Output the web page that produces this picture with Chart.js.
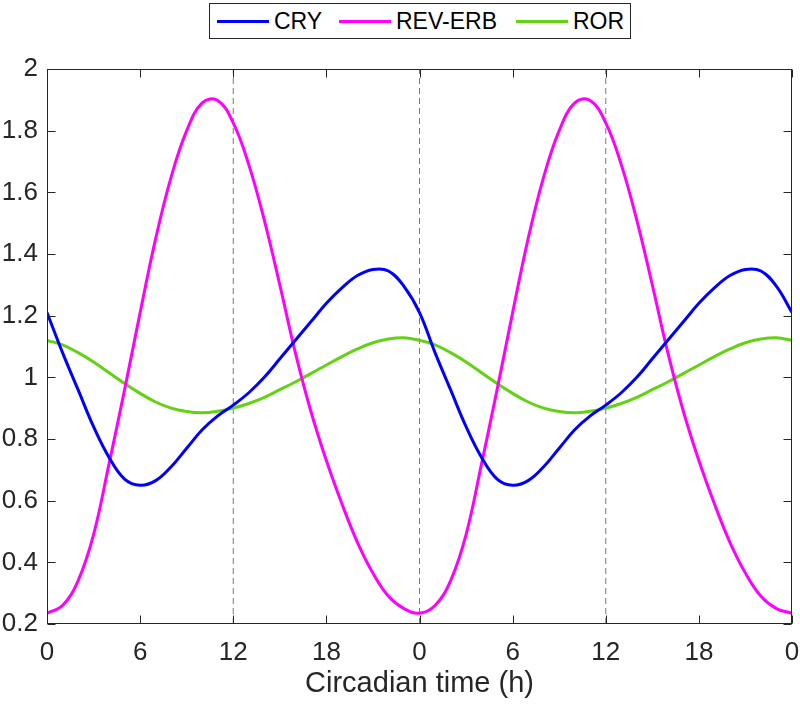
<html>
<head>
<style>
body { margin: 0; background: #fff; }
#wrap { position: relative; width: 800px; height: 705px; }
#legend { position: absolute; left: 209px; top: 3px; width: 420px; height: 34px; border: 1px solid #262626; background: #fff;
  font-family: "Liberation Sans", Arial, sans-serif; font-size: 23px; color: #000; }
.swatch { position: absolute; top: 16px; width: 52px; height: 3px; }
.lbl { position: absolute; top: 0; height: 34px; line-height: 35px; }
</style>
</head>
<body>
<div id="wrap">
  <canvas id="myChart" width="800" height="705"></canvas>
  <div id="legend"></div>
</div>
<script src="https://cdn.jsdelivr.net/npm/chart.js"></script>
<script>
// circadian time, hours 0..48 (two days)
const hours = [0,1,2,3,4,5,6,7,8,9,10,11,12,13,14,15,16,17,18,19,20,21,22,23,24,
  25,26,27,28,29,30,31,32,33,34,35,36,37,38,39,40,41,42,43,44,45,46,47,48];

const cry = [1.21,1.08,0.96,0.84,0.74,0.67,0.65,0.665,0.71,0.77,0.83,0.875,0.91,0.95,1.0,1.06,1.12,1.18,1.24,1.29,1.33,1.35,1.345,1.295,1.21,
  1.08,0.96,0.84,0.74,0.67,0.65,0.665,0.71,0.77,0.83,0.875,0.91,0.95,1.0,1.06,1.12,1.18,1.24,1.29,1.33,1.35,1.345,1.295,1.21];

const revErb = [0.235,0.26,0.34,0.49,0.72,0.96,1.21,1.45,1.65,1.80,1.89,1.898,1.825,1.69,1.51,1.30,1.08,0.89,0.73,0.59,0.465,0.365,0.29,0.25,0.235,
  0.26,0.34,0.49,0.72,0.96,1.21,1.45,1.65,1.80,1.89,1.898,1.825,1.69,1.51,1.30,1.08,0.89,0.73,0.59,0.465,0.365,0.29,0.25,0.235];

const ror = [1.12,1.105,1.08,1.05,1.015,0.98,0.948,0.92,0.9,0.889,0.885,0.89,0.90,0.915,0.935,0.96,0.985,1.012,1.04,1.067,1.092,1.112,1.124,1.128,1.12,
  1.105,1.08,1.05,1.015,0.98,0.948,0.92,0.9,0.889,0.885,0.89,0.90,0.915,0.935,0.96,0.985,1.012,1.04,1.067,1.092,1.112,1.124,1.128,1.12];

const seriesNames = ['CRY', 'REV-ERB', 'ROR'];
const seriesColors = ['#0000ff', '#ff00ff', '#64d214'];

const xTickLabels = ['0','6','12','18','0','6','12','18','0'];
const yTickLabels = ['0.2','0.4','0.6','0.8','1','1.2','1.4','1.6','1.8','2'];
const dividers = [12, 24, 36];
const yMin = 0.2, yMax = 2;

function toPoints(ys) {
  return hours.map((h, i) => ({x: h, y: ys[i]}));
}

const datasets = [cry, revErb, ror].map((ys, i) => ({
  label: seriesNames[i],
  data: toPoints(ys),
  borderColor: seriesColors[i],
  borderWidth: 3,
  pointRadius: 0,
  tension: 0.4,
  fill: false
}));

dividers.forEach(h => {
  datasets.push({
    label: 'divider',
    data: [{x: h, y: yMin}, {x: h, y: yMax}],
    borderColor: '#7a7a7a',
    borderWidth: 1,
    borderDash: [6, 4],
    pointRadius: 0,
    fill: false
  });
});

// legend (html, boxed like matlab)
const legendPos = [[7, 64], [129, 186], [306, 363]];
const legendEl = document.getElementById('legend');
seriesNames.forEach((name, i) => {
  const sw = document.createElement('div');
  sw.className = 'swatch';
  sw.style.left = legendPos[i][0] + 'px';
  sw.style.background = seriesColors[i];
  legendEl.appendChild(sw);
  const t = document.createElement('div');
  t.className = 'lbl';
  t.style.left = legendPos[i][1] + 'px';
  t.textContent = name;
  legendEl.appendChild(t);
});

const frame = {
  id: 'frame',
  afterDraw(chart) {
    const {ctx, chartArea: a} = chart;
    const xs = chart.scales.x, ys = chart.scales.y;
    const L = Math.round(a.left) + 0.5, R = Math.round(a.right) - 0.5;
    const T = Math.round(a.top) + 0.5, B = Math.round(a.bottom) - 0.5;
    ctx.save();
    ctx.strokeStyle = '#262626';
    ctx.lineWidth = 1;
    ctx.strokeRect(L, T, R - L, B - T);
    const len = 8;
    ctx.beginPath();
    xs.ticks.forEach(t => {
      const px = Math.round(xs.getPixelForValue(t.value)) + 0.5;
      ctx.moveTo(px, B); ctx.lineTo(px, B - len);
      ctx.moveTo(px, T); ctx.lineTo(px, T + len);
    });
    ys.ticks.forEach(t => {
      const py = Math.round(ys.getPixelForValue(t.value)) + 0.5;
      ctx.moveTo(L, py); ctx.lineTo(L + len, py);
      ctx.moveTo(R, py); ctx.lineTo(R - len, py);
    });
    ctx.stroke();
    ctx.restore();
  }
};

const tickFont = {family: '"Liberation Sans", Arial, sans-serif', size: 26};

const config = {
  type: 'line',
  data: {datasets: datasets},
  options: {
    responsive: false,
    animation: false,
    layout: {padding: {top: 69, right: 8, left: 0, bottom: 0}},
    plugins: {legend: {display: false}, tooltip: {enabled: false}},
    scales: {
      x: {
        type: 'linear',
        min: 0, max: 48,
        grid: {display: false, drawTicks: false},
        border: {display: false},
        ticks: {
          stepSize: 6,
          padding: 13,
          color: '#262626',
          font: tickFont,
          maxRotation: 0,
          callback: v => xTickLabels[Math.round(v / 6)]
        },
        title: {
          display: true,
          text: 'Circadian time (h)',
          color: '#262626',
          font: {family: '"Liberation Sans", Arial, sans-serif', size: 29},
          padding: {top: 0, bottom: 4}
        },
        afterFit: s => { s.height = 81; s.paddingLeft = 0; s.paddingRight = 0; }
      },
      y: {
        min: yMin, max: yMax,
        grid: {display: false, drawTicks: false},
        border: {display: false},
        ticks: {
          stepSize: 0.2,
          padding: 9,
          color: '#262626',
          font: tickFont,
          callback: v => yTickLabels[Math.round((v - yMin) / 0.2)]
        },
        afterFit: s => { s.width = 47; s.paddingTop = 0; s.paddingBottom = 0; }
      }
    }
  },
  plugins: [frame]
};

const myChart = new Chart(document.getElementById('myChart'), config);
</script>
</body>
</html>
